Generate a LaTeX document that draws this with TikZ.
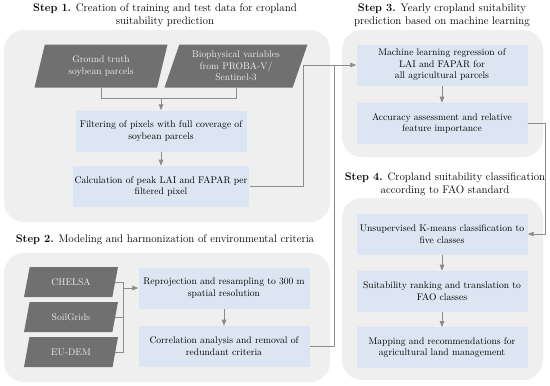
\documentclass[tikz,border=0pt]{standalone}
\usepackage{tikz}
\usetikzlibrary{arrows.meta,positioning,shapes.geometric}
\definecolor{PanelGray}{HTML}{EFEFEF}
\definecolor{BoxBlue}{HTML}{DCE6F2}
\definecolor{DataGray}{HTML}{707070}
\definecolor{DataText}{HTML}{EDEDED}
\definecolor{LinkGray}{HTML}{8C8C8C}

\begin{document}
\begin{tikzpicture}[x=1pt,y=-1pt,
        every node/.style={font=\fontsize{9.6}{11.5}\selectfont},
        panel/.style={fill=PanelGray,rounded corners=20pt},
        title/.style={font=\fontsize{11}{13}\selectfont,align=center},
        box/.style={fill=BoxBlue,minimum width=171pt,minimum height=41pt,align=center,inner sep=2pt},
        data/.style={trapezium,trapezium left angle=65,trapezium right angle=115,trapezium stretches body,fill=DataGray,text=DataText,align=center,minimum height=43pt,inner sep=1pt},
        smalldata/.style={data,trapezium left angle=58,trapezium right angle=122,minimum width=94pt,minimum height=30pt},
        link/.style={draw=LinkGray,line width=0.8pt},
        arr/.style={link,-{Triangle[length=6pt,width=4.5pt]}}
      ]
        \useasboundingbox (0,0) rectangle (550,386);
        % panels
        \fill[panel] (4,30) rectangle (330,222);
        \fill[panel] (4,253) rectangle (330,382);
        \fill[panel] (342,30) rectangle (543,157);
        \fill[panel] (342,198) rectangle (543,380);
        % titles
        \node[title] (t1) at (165,15) {\textbf{Step 1.} Creation of training and test data for cropland\\suitability prediction};
        \node[title] (t2) at (165,240) {\textbf{Step 2.} Modeling and harmonization of environmental criteria};
        \node[title] (t3) at (442,15) {\textbf{Step 3.} Yearly cropland suitability\\prediction based on machine learning};
        \node[title] (t4) at (445,184) {\textbf{Step 4.} Cropland suitability classification\\according to FAO standard};
        % step 1
        \node[data,minimum width=133pt] (truth) at (101,66) {Ground truth\\soybean parcels};
        \node[data,minimum width=143pt] (bio) at (236,66) {Biophysical variables\\from PROBA-V/\\Sentinel-3};
        \node[box] (filt) at (161,131) {Filtering of pixels with full coverage of\\soybean parcels};
        \node[box,below=14pt of filt] (peak) {Calculation of peak LAI and FAPAR per\\filtered pixel};
        % step 2
        \node[smalldata] (chelsa) at (71,282) {CHELSA};
        \node[smalldata] (soil) at (71,317) {SoilGrids};
        \node[smalldata] (dem) at (71,352) {EU-DEM};
        \node[box] (reproj) at (224,288) {Reprojection and resampling to 300 m\\spatial resolution};
        \node[box,below=17pt of reproj] (corr) {Correlation analysis and removal of\\redundant criteria};
        % step 3
        \node[box] (regr) at (442,65) {Machine learning regression of\\LAI and FAPAR for\\all agricultural parcels};
        \node[box,below=17pt of regr] (acc) {Accuracy assessment and relative\\feature importance};
        % step 4
        \node[box] (kmeans) at (442,234) {Unsupervised K-means classification to\\five classes};
        \node[box,below=16pt of kmeans] (rank) {Suitability ranking and translation to\\FAO classes};
        \node[box,below=15pt of rank] (mapping) {Mapping and recommendations for\\agricultural land management};
        % joints
        \coordinate (j1) at (161,98);
        \coordinate (j2) at (123,288);
        \coordinate (j3) at (303,65);
        \coordinate (j4) at (334,65);
        \coordinate (j5) at (545,234);
        % connectors
        \draw[link] (truth.south) -- (truth.south |- j1) -- (bio.south |- j1) -- (bio.south);
        \draw[arr] (j1) -- (filt);
        \draw[arr] (filt) -- (peak);
        \draw[arr] (peak.east) -| (j3) -- (regr.west);
        \draw[link] (corr.east) -| (j4);
        \draw[link] (chelsa.east) -- (chelsa.east -| j2) -- (dem.east -| j2) -- (dem.east);
        \draw[link] (soil.east) -- (soil.east -| j2);
        \draw[arr] (j2) -- (reproj);
        \draw[arr] (reproj) -- (corr);
        \draw[arr] (regr) -- (acc);
        \draw[arr] (acc.east) -| (j5) -- (kmeans);
        \draw[arr] (kmeans) -- (rank);
        \draw[arr] (rank) -- (mapping);
      \end{tikzpicture}
\end{document}
